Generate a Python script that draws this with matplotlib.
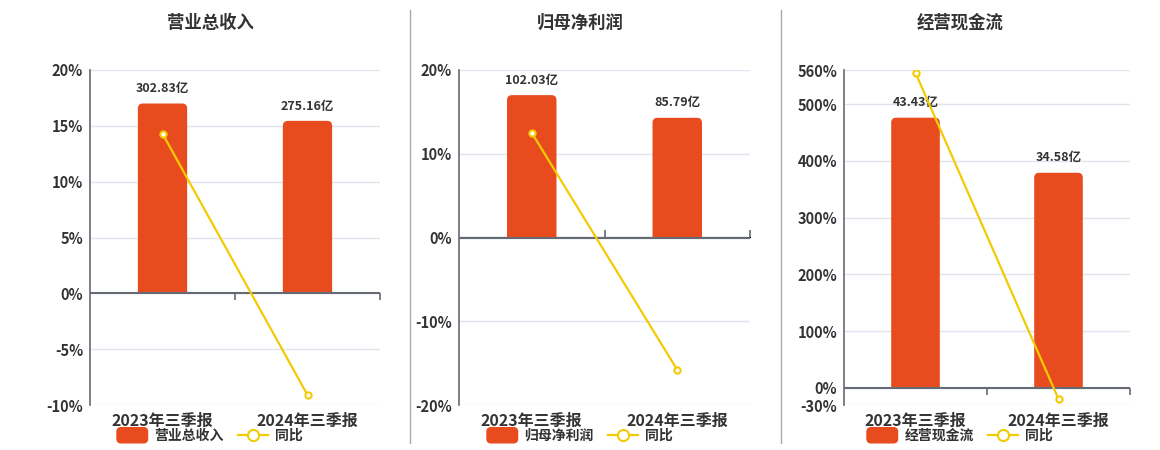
import matplotlib.pyplot as plt
from matplotlib.lines import Line2D
from matplotlib.patches import FancyBboxPatch, Rectangle, Patch
from matplotlib.legend_handler import HandlerPatch

plt.rcParams['font.family'] = ['Noto Sans CJK SC', 'DejaVu Sans']

categories = ['2023年三季报', '2024年三季报']

titles = ['营业总收入', '归母净利润', '经营现金流']
bar_values = [[302.83, 275.16], [102.03, 85.79], [43.43, 34.58]]
yoy_values = [[14.3, -9.1], [12.5, -15.8], [555.0, -19.5]]
y_ticks = [[-10, -5, 0, 5, 10, 15, 20],
           [-20, -10, 0, 10, 20],
           [-30, 0, 100, 200, 300, 400, 500, 560]]

BAR_COLOR = '#e84c1e'
LINE_COLOR = '#f2cb05'
TEXT_COLOR = '#333333'
AXIS_COLOR = '#666a73'
GRID_COLOR = '#dfe4ef'

W, H = 1160, 450
fig = plt.figure(figsize=(W / 100, H / 100), dpi=100)

# pixel boxes of the three plot areas (left, right, top, bottom) and title/legend centres
boxes = [(90, 380, 70, 405), (459, 750, 70, 405), (844, 1130, 70, 405)]
centres = [210, 580, 960]
RADIUS = 5  # px, bar corner rounding


def rounded_handle(legend, orig_handle, xdescent, ydescent, width, height, fontsize):
    return FancyBboxPatch((-xdescent, -ydescent - 1), width, height + 2,
                          boxstyle='round,pad=0,rounding_size=3')


for i in range(3):
    l, r, t, b = boxes[i]
    rect = [l / W, 1 - b / H, (r - l) / W, (b - t) / H]
    ax = fig.add_axes(rect)
    ticks = y_ticks[i]
    lo, hi = ticks[0], ticks[-1]
    ax.set_ylim(lo, hi)
    ax.set_xlim(-0.5, len(categories) - 0.5)
    ax.set_yticks(ticks)
    ax.set_yticklabels([f'{v}%' for v in ticks])
    ax.tick_params(axis='y', length=0, pad=5, labelsize=10.5, labelcolor=TEXT_COLOR)
    for lab in ax.get_yticklabels():
        lab.set_fontweight('bold')
    ax.set_xticks(range(len(categories)))
    ax.set_xticklabels(categories, fontsize=11.5, fontweight='bold', color=TEXT_COLOR)
    ax.tick_params(axis='x', length=0, pad=6)
    ax.grid(axis='y', color=GRID_COLOR, lw=1)
    ax.set_axisbelow(True)
    for s in ['top', 'right', 'bottom']:
        ax.spines[s].set_visible(False)
    ax.spines['left'].set_color(AXIS_COLOR)
    ax.spines['left'].set_linewidth(1.2)

    # bars on a hidden twin axis, zero aligned with the percent axis
    axb = ax.twinx()
    top = max(bar_values[i]) / 0.85
    ylo = lo / hi * top
    axb.set_ylim(ylo, top)
    axb.set_xlim(-0.5, len(categories) - 0.5)
    axb.axis('off')
    bars = axb.bar(range(len(categories)), bar_values[i], width=0.34, color=BAR_COLOR,
                   label=titles[i])
    # swap the plain bars for ones with rounded tops
    px_x = len(categories) / (r - l)
    px_y = (top - ylo) / (b - t)
    clip = Rectangle((-0.5, 0), len(categories), top, transform=axb.transData)
    for p in bars.patches:
        p.set_visible(False)
        rx = RADIUS * px_x
        ry = RADIUS * px_y
        fp = FancyBboxPatch((p.get_x(), -ry), p.get_width(), p.get_height() + ry,
                            boxstyle=f'round,pad=0,rounding_size={rx}',
                            mutation_aspect=px_y / px_x, color=BAR_COLOR, lw=0)
        axb.add_patch(fp)
        fp.set_clip_path(clip)
    for x, v in enumerate(bar_values[i]):
        axb.annotate(f'{v:.2f}亿', (x, v), xytext=(0, 6), textcoords='offset points',
                     ha='center', va='bottom', fontsize=9, fontweight='bold', color=TEXT_COLOR)

    # yoy line on top
    axl = ax.twinx()
    axl.set_ylim(lo, hi)
    axl.axis('off')
    axl.axhline(0, color=AXIS_COLOR, lw=1.5, zorder=1)
    line, = axl.plot(range(len(categories)), yoy_values[i], color=LINE_COLOR, lw=1.6,
                     marker='o', ms=4.5, mfc='white', mec=LINE_COLOR, mew=1.5, zorder=3)
    zero = (0 - lo) / (hi - lo)
    sx = ax.secondary_xaxis(zero)
    sx.set_xticks([0.5, 1.5])
    sx.set_xticklabels([])
    sx.tick_params(length=5, width=1.2, color=AXIS_COLOR, direction='out')
    sx.spines['bottom'].set_visible(False)
    sx.set_zorder(axl.get_zorder() + 1)

    fig.text(centres[i] / W, 1 - 23 / H, titles[i], ha='center', va='center',
             fontsize=12.5, fontweight='bold', color=TEXT_COLOR)

    hb = Patch(color=BAR_COLOR)
    hl = Line2D([], [], color=LINE_COLOR, lw=1.6, marker='o', ms=8, mfc='white',
                mec=LINE_COLOR, mew=1.5)
    fig.legend([hb, hl], [titles[i], '同比'], loc='center',
               bbox_to_anchor=(centres[i] / W, 1 - 436 / H), ncol=2, frameon=False,
               handler_map={Patch: HandlerPatch(patch_func=rounded_handle)},
               prop={'size': 10, 'weight': 'bold'}, handlelength=2.2, handleheight=1.0,
               columnspacing=1.0, handletextpad=0.5, labelcolor=TEXT_COLOR)

# separators between panels
for x in [410, 781]:
    fig.add_artist(Line2D([x / W, x / W], [1 - 443 / H, 1 - 10 / H], color='#aaaaaa', lw=1))

fig.savefig('out.png', dpi=100)
